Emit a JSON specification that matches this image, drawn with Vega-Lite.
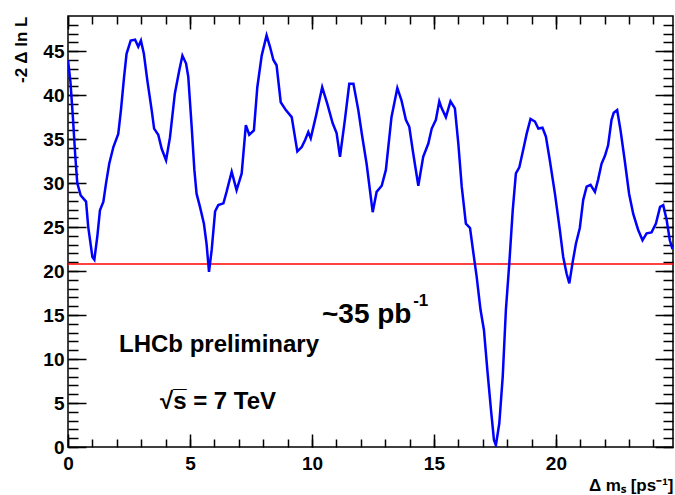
{
  "$schema": "https://vega.github.io/schema/vega-lite/v6.json",
  "width": 605,
  "height": 431,
  "autosize": {"type": "none"},
  "padding": {"left": 68, "top": 16, "right": 2, "bottom": 48},
  "background": "white",
  "config": {
    "view": {"stroke": "black", "strokeWidth": 1.5},
    "font": "Liberation Sans",
    "axis": {
      "grid": false,
      "domain": false,
      "tickColor": "black",
      "tickWidth": 1.5,
      "labelFlush": false,
      "labelFont": "Liberation Sans",
      "labelFontWeight": "bold",
      "labelFontSize": 19,
      "labelColor": "black",
      "titleFont": "Liberation Sans",
      "titleFontWeight": "bold",
      "titleFontSize": 17,
      "titleColor": "black"
    }
  },
  "datasets": {
    "curve": [
      {"x": 0.0, "y": 44.0}, {"x": 0.1, "y": 41.5}, {"x": 0.2, "y": 37.5}, {"x": 0.3, "y": 33.0}, {"x": 0.38, "y": 30.0},
      {"x": 0.52, "y": 28.6}, {"x": 0.74, "y": 27.9}, {"x": 0.83, "y": 25.0}, {"x": 1.0, "y": 21.6}, {"x": 1.08, "y": 21.3},
      {"x": 1.2, "y": 23.9}, {"x": 1.31, "y": 26.9}, {"x": 1.45, "y": 27.9}, {"x": 1.56, "y": 30.0}, {"x": 1.69, "y": 32.2},
      {"x": 1.86, "y": 34.1}, {"x": 2.06, "y": 35.6}, {"x": 2.17, "y": 38.3}, {"x": 2.3, "y": 42.1}, {"x": 2.4, "y": 44.7},
      {"x": 2.57, "y": 46.2}, {"x": 2.75, "y": 46.3}, {"x": 2.88, "y": 45.5}, {"x": 2.99, "y": 46.2}, {"x": 3.11, "y": 44.7},
      {"x": 3.25, "y": 41.7}, {"x": 3.43, "y": 38.3}, {"x": 3.53, "y": 36.2}, {"x": 3.7, "y": 35.5}, {"x": 3.84, "y": 33.9},
      {"x": 4.02, "y": 32.6}, {"x": 4.18, "y": 35.2}, {"x": 4.38, "y": 40.2}, {"x": 4.56, "y": 42.8}, {"x": 4.69, "y": 44.5},
      {"x": 4.84, "y": 43.6}, {"x": 4.93, "y": 42.1}, {"x": 5.07, "y": 36.4}, {"x": 5.18, "y": 31.5}, {"x": 5.27, "y": 28.8},
      {"x": 5.41, "y": 27.3}, {"x": 5.57, "y": 25.4}, {"x": 5.68, "y": 23.1}, {"x": 5.78, "y": 19.9}, {"x": 5.89, "y": 22.4},
      {"x": 6.03, "y": 26.8}, {"x": 6.16, "y": 27.5}, {"x": 6.37, "y": 27.7}, {"x": 6.5, "y": 29.0}, {"x": 6.71, "y": 31.3},
      {"x": 6.91, "y": 29.2}, {"x": 7.12, "y": 31.1}, {"x": 7.29, "y": 36.6}, {"x": 7.43, "y": 35.5}, {"x": 7.62, "y": 36.0},
      {"x": 7.76, "y": 40.9}, {"x": 7.94, "y": 44.5}, {"x": 8.14, "y": 46.8}, {"x": 8.28, "y": 45.5}, {"x": 8.42, "y": 44.0},
      {"x": 8.55, "y": 43.4}, {"x": 8.72, "y": 39.2}, {"x": 8.93, "y": 38.3}, {"x": 9.17, "y": 37.5}, {"x": 9.4, "y": 33.6},
      {"x": 9.58, "y": 34.1}, {"x": 9.72, "y": 34.9}, {"x": 9.85, "y": 35.8}, {"x": 9.95, "y": 35.1}, {"x": 10.17, "y": 37.7},
      {"x": 10.42, "y": 40.9}, {"x": 10.63, "y": 39.0}, {"x": 10.85, "y": 36.8}, {"x": 11.01, "y": 35.7}, {"x": 11.15, "y": 33.0},
      {"x": 11.35, "y": 37.2}, {"x": 11.53, "y": 41.3}, {"x": 11.7, "y": 41.3}, {"x": 11.9, "y": 38.3}, {"x": 12.05, "y": 35.5},
      {"x": 12.24, "y": 32.2}, {"x": 12.49, "y": 26.7}, {"x": 12.65, "y": 29.0}, {"x": 12.86, "y": 29.7}, {"x": 13.03, "y": 31.5},
      {"x": 13.26, "y": 37.5}, {"x": 13.5, "y": 40.8}, {"x": 13.67, "y": 39.4}, {"x": 13.85, "y": 37.2}, {"x": 13.99, "y": 36.4},
      {"x": 14.15, "y": 33.4}, {"x": 14.36, "y": 29.7}, {"x": 14.56, "y": 33.0}, {"x": 14.77, "y": 34.5}, {"x": 14.91, "y": 36.2},
      {"x": 15.08, "y": 37.2}, {"x": 15.22, "y": 39.3}, {"x": 15.32, "y": 38.5}, {"x": 15.49, "y": 37.5}, {"x": 15.68, "y": 39.3},
      {"x": 15.86, "y": 38.5}, {"x": 16.0, "y": 34.5}, {"x": 16.14, "y": 29.6}, {"x": 16.31, "y": 25.4}, {"x": 16.48, "y": 24.9},
      {"x": 16.62, "y": 22.0}, {"x": 16.75, "y": 19.4}, {"x": 16.91, "y": 15.6}, {"x": 17.05, "y": 13.3}, {"x": 17.19, "y": 8.75},
      {"x": 17.34, "y": 4.2}, {"x": 17.46, "y": 0.8}, {"x": 17.54, "y": 0.2}, {"x": 17.68, "y": 2.7}, {"x": 17.82, "y": 8.0},
      {"x": 17.95, "y": 15.6}, {"x": 18.09, "y": 20.9}, {"x": 18.23, "y": 26.9}, {"x": 18.36, "y": 31.1}, {"x": 18.5, "y": 31.8},
      {"x": 18.66, "y": 33.8}, {"x": 18.8, "y": 35.6}, {"x": 18.96, "y": 37.3}, {"x": 19.14, "y": 37.0}, {"x": 19.28, "y": 36.2},
      {"x": 19.45, "y": 36.3}, {"x": 19.59, "y": 35.3}, {"x": 19.75, "y": 32.6}, {"x": 19.96, "y": 28.8}, {"x": 20.16, "y": 24.7},
      {"x": 20.3, "y": 21.6}, {"x": 20.44, "y": 19.7}, {"x": 20.55, "y": 18.6}, {"x": 20.68, "y": 20.9}, {"x": 20.82, "y": 23.1},
      {"x": 20.98, "y": 24.9}, {"x": 21.12, "y": 28.1}, {"x": 21.26, "y": 29.6}, {"x": 21.42, "y": 29.8}, {"x": 21.6, "y": 29.0},
      {"x": 21.73, "y": 30.4}, {"x": 21.87, "y": 32.2}, {"x": 22.01, "y": 33.1}, {"x": 22.14, "y": 34.3}, {"x": 22.28, "y": 37.2},
      {"x": 22.37, "y": 38.0}, {"x": 22.51, "y": 38.3}, {"x": 22.65, "y": 36.0}, {"x": 22.82, "y": 32.6}, {"x": 23.0, "y": 28.8},
      {"x": 23.17, "y": 26.5}, {"x": 23.37, "y": 24.7}, {"x": 23.55, "y": 23.5}, {"x": 23.72, "y": 24.3}, {"x": 23.92, "y": 24.4},
      {"x": 24.1, "y": 25.4}, {"x": 24.27, "y": 27.3}, {"x": 24.4, "y": 27.5}, {"x": 24.54, "y": 25.8}, {"x": 24.67, "y": 23.5},
      {"x": 24.78, "y": 22.5}
    ],
    "thr": [{"x0": 0, "x1": 24.8, "y": 20.8}],
    "ann1": [
      {"x": 2.09, "y": 11.6, "label": "LHCb preliminary"},
      {"x": 3.77, "y": 5.1, "label": "√s̅ = 7 TeV"}
    ],
    "ann2": [{"x": 10.41, "y": 15.0, "label": "~35 pb"}],
    "ann3": [{"x": 14.15, "y": 16.6, "label": "-1"}]
  },
  "layer": [
    {
      "data": {"name": "thr"},
      "mark": {"type": "rule", "color": "#ff0000", "strokeWidth": 1.5},
      "encoding": {
        "x": {"field": "x0", "type": "quantitative", "scale": {"domain": [0, 24.8], "nice": false, "zero": false},
          "axis": {"orient": "bottom", "values": [0,1,2,3,4,5,6,7,8,9,10,11,12,13,14,15,16,17,18,19,20,21,22,23,24], "tickSize": -8, "labels": false, "title": null}},
        "x2": {"field": "x1"},
        "y": {"field": "y", "type": "quantitative", "scale": {"domain": [0, 49], "nice": false, "zero": false},
          "axis": {"orient": "left", "values": [0,1,2,3,4,5,6,7,8,9,10,11,12,13,14,15,16,17,18,19,20,21,22,23,24,25,26,27,28,29,30,31,32,33,34,35,36,37,38,39,40,41,42,43,44,45,46,47,48], "tickSize": -10, "labels": false, "title": null}}
      }
    },
    {
      "data": {"name": "curve"},
      "mark": {"type": "line", "color": "#0000ff", "strokeWidth": 2.5, "clip": true},
      "encoding": {
        "x": {"field": "x", "type": "quantitative", "scale": {"domain": [0, 24.8], "nice": false, "zero": false},
          "axis": {"orient": "bottom", "values": [0, 5, 10, 15, 20], "tickSize": -13, "labelPadding": 20,
            "title": "Δ mₛ [ps⁻¹]", "titleAnchor": "end", "titleAlign": "right", "titleX": 605, "titleY": 38, "titleBaseline": "middle"}},
        "y": {"field": "y", "type": "quantitative", "scale": {"domain": [0, 49], "nice": false, "zero": false},
          "axis": {"orient": "left", "values": [0, 5, 10, 15, 20, 25, 30, 35, 40, 45], "tickSize": -18, "labelPadding": 22,
            "title": "-2 Δ ln L", "titleAngle": -90, "titleAlign": "right", "titleBaseline": "middle", "titleX": -47, "titleY": 0}}
      }
    },
    {
      "data": {"name": "ann1"},
      "mark": {"type": "text", "align": "left", "baseline": "middle", "fontSize": 24, "fontWeight": "bold", "font": "Liberation Sans", "color": "black"},
      "encoding": {
        "x": {"field": "x", "type": "quantitative", "scale": {"domain": [0, 24.8], "nice": false, "zero": false},
          "axis": {"orient": "top", "values": [0, 5, 10, 15, 20], "tickSize": -13, "labels": false, "title": null}},
        "y": {"field": "y", "type": "quantitative", "scale": {"domain": [0, 49], "nice": false, "zero": false},
          "axis": {"orient": "right", "values": [0, 5, 10, 15, 20, 25, 30, 35, 40, 45], "tickSize": -18, "labels": false, "title": null}},
        "text": {"field": "label"}
      }
    },
    {
      "data": {"name": "ann2"},
      "mark": {"type": "text", "align": "left", "baseline": "middle", "fontSize": 28, "fontWeight": "bold", "font": "Liberation Sans", "color": "black"},
      "encoding": {
        "x": {"field": "x", "type": "quantitative", "scale": {"domain": [0, 24.8], "nice": false, "zero": false},
          "axis": {"orient": "top", "values": [0,1,2,3,4,5,6,7,8,9,10,11,12,13,14,15,16,17,18,19,20,21,22,23,24], "tickSize": -8, "labels": false, "title": null}},
        "y": {"field": "y", "type": "quantitative", "scale": {"domain": [0, 49], "nice": false, "zero": false},
          "axis": {"orient": "right", "values": [0,1,2,3,4,5,6,7,8,9,10,11,12,13,14,15,16,17,18,19,20,21,22,23,24,25,26,27,28,29,30,31,32,33,34,35,36,37,38,39,40,41,42,43,44,45,46,47,48], "tickSize": -10, "labels": false, "title": null}},
        "text": {"field": "label"}
      }
    },
    {
      "data": {"name": "ann3"},
      "mark": {"type": "text", "align": "left", "baseline": "middle", "fontSize": 17, "fontWeight": "bold", "font": "Liberation Sans", "color": "black"},
      "encoding": {
        "x": {"field": "x", "type": "quantitative", "scale": {"domain": [0, 24.8], "nice": false, "zero": false}, "axis": null},
        "y": {"field": "y", "type": "quantitative", "scale": {"domain": [0, 49], "nice": false, "zero": false}, "axis": null},
        "text": {"field": "label"}
      }
    }
  ],
  "resolve": {"axis": {"x": "independent", "y": "independent"}}
}
